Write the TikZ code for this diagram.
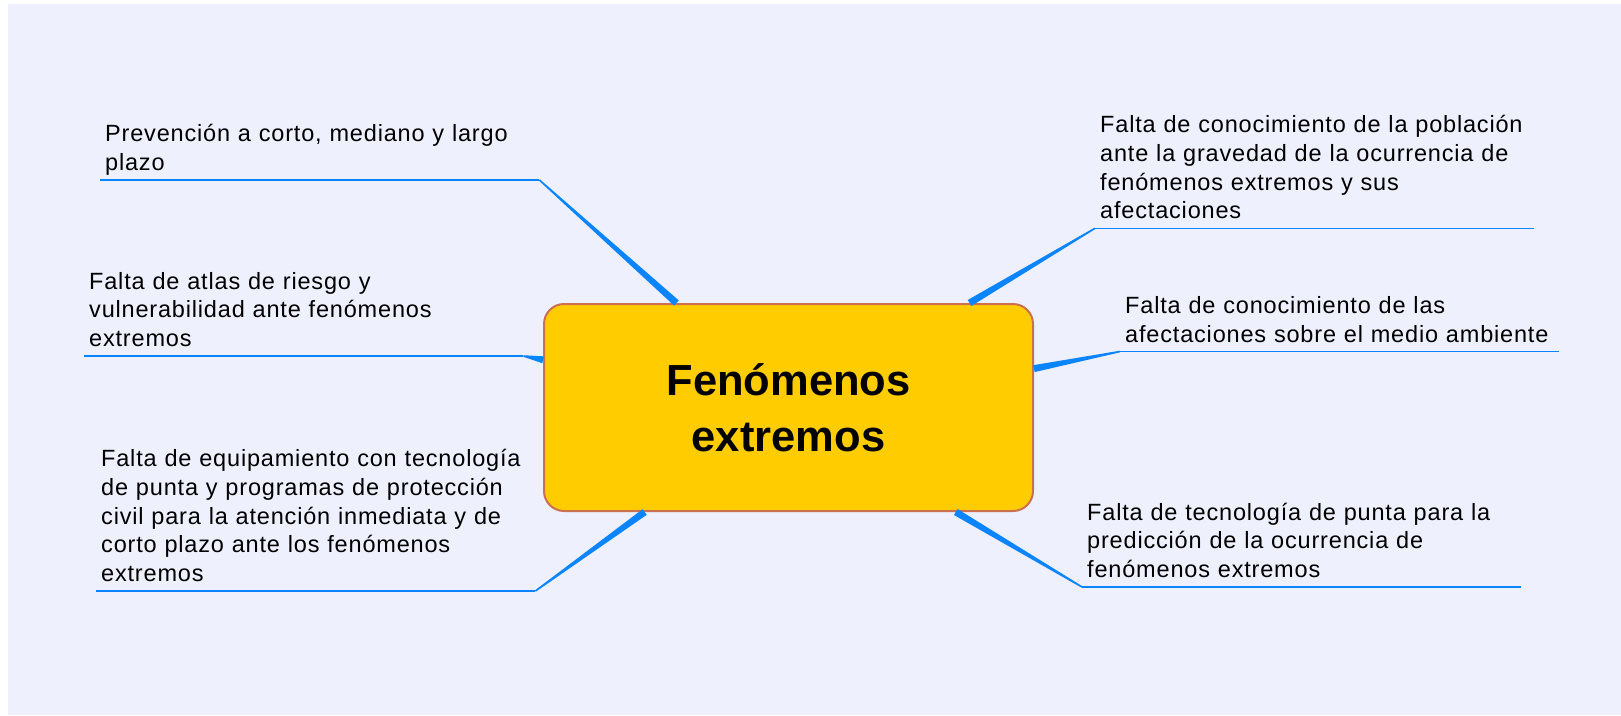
\documentclass[tikz,border=0pt]{standalone}
\usepackage{fontspec}
\setmainfont{Liberation Sans}
\newfontfamily\branchfont[LetterSpace=3.5]{Liberation Sans}
\usetikzlibrary{calc}
\definecolor{bgblue}{RGB}{238,240,254}
\definecolor{hubgold}{RGB}{255,204,0}
\definecolor{hubedge}{RGB}{204,112,80}
\definecolor{linkblue}{RGB}{10,132,255}
\newcommand{\taper}[2]{\fill[linkblue] ($(#1)!0.8pt!90:(#2)$) -- ($(#2)!3.5pt!-90:(#1)$) -- ($(#2)!3.5pt!90:(#1)$) -- ($(#1)!0.8pt!-90:(#2)$) -- cycle;}

\begin{document}
\begin{tikzpicture}[x=1pt,y=-1pt,
  branch/.style={anchor=south west,align=left,text width=429pt,inner xsep=5pt,inner ysep=0.5pt,execute at end node=\strut,font=\branchfont\fontsize{23.5}{28.7}\selectfont},
  underline/.style={linkblue,line width=1.6pt}]
\useasboundingbox (0,0) rectangle (1621,715);
\fill[white] (0,0) rectangle (1621,715);
\fill[bgblue] (8,4) rectangle (1621,715);
\node[draw=hubedge,fill=hubgold,line width=2pt,rounded corners=20pt,minimum width=489pt,minimum height=207pt,align=center,font=\bfseries\fontsize{43.5}{56}\selectfont] (hub) at (788.5,407.5) {Fenómenos\\extremos};
\node[branch] (prev) at (100,180) {Prevención a corto, mediano y largo\\plazo};
\node[branch] (atlas) at (84,356) {Falta de atlas de riesgo y\\vulnerabilidad ante fenómenos\\extremos};
\node[branch] (equip) at (96,591) {Falta de equipamiento con tecnología\\de punta y programas de protección\\civil para la atención inmediata y de\\corto plazo ante los fenómenos\\extremos};
\node[branch] (pobl) at (1095,228.3) {Falta de conocimiento de la población\\ante la gravedad de la ocurrencia de\\fenómenos extremos y sus\\afectaciones};
\node[branch] (medio) at (1120,351.5) {Falta de conocimiento de las\\afectaciones sobre el medio ambiente};
\node[branch] (pred) at (1082,587) {Falta de tecnología de punta para la\\predicción de la ocurrencia de\\fenómenos extremos};
\draw[underline] (prev.south west) -- (prev.south east);
\draw[underline] (atlas.south west) -- (atlas.south east);
\draw[underline] (equip.south west) -- (equip.south east);
\draw[underline] (pobl.south west) -- (pobl.south east);
\draw[underline] (medio.south west) -- (medio.south east);
\draw[underline] (pred.south west) -- (pred.south east);
\taper{prev.south east}{hub.137.8}
\taper{atlas.south east}{hub.169.1}
\taper{equip.south east}{hub.216.3}
\taper{pobl.south west}{hub.30.3}
\taper{medio.south west}{hub.9.4}
\taper{pred.south west}{hub.328}
\end{tikzpicture}
\end{document}
